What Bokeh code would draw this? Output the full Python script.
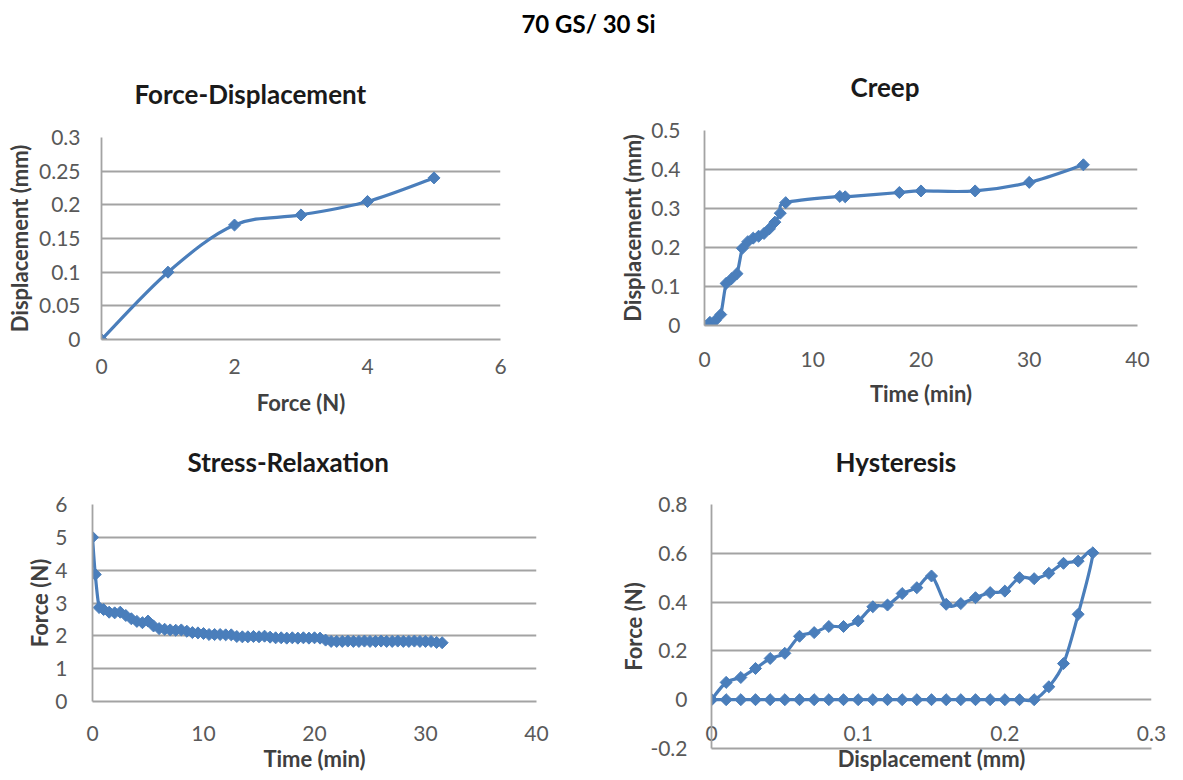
import numpy as np
from bokeh.plotting import figure
from bokeh.models import Range1d, FixedTicker, Div
from bokeh.layouts import column, row
from bokeh.embed import file_html
from bokeh.resources import INLINE

# ---------------- data ----------------
main_title = "70 GS/ 30 Si"

fd_force = [0, 1, 2, 3, 4, 5]
fd_disp = [0, 0.1, 0.17, 0.185, 0.205, 0.24]
fd_xticks = [0, 2, 4, 6]
fd_xlabels = ["0", "2", "4", "6"]
fd_yticks = [0, 0.05, 0.1, 0.15, 0.2, 0.25, 0.3]
fd_ylabels = ["0", "0.05", "0.1", "0.15", "0.2", "0.25", "0.3"]

creep_time = [0, 0.5, 1, 1.5, 2, 2.5, 3, 3.5, 4, 4.5, 5, 5.5, 6, 6.5, 7, 7.5,
              12.5, 13, 18, 20, 25, 30, 35]
creep_disp = [0, 0.008, 0.013, 0.028, 0.108, 0.12, 0.133, 0.198, 0.215, 0.224,
              0.229, 0.236, 0.248, 0.265, 0.288, 0.315, 0.331, 0.330, 0.341,
              0.345, 0.345, 0.367, 0.412]
creep_xticks = [0, 10, 20, 30, 40]
creep_xlabels = ["0", "10", "20", "30", "40"]
creep_yticks = [0, 0.1, 0.2, 0.3, 0.4, 0.5]
creep_ylabels = ["0", "0.1", "0.2", "0.3", "0.4", "0.5"]

sr_time = [0, 0.25, 0.6, 1.0, 1.5, 2.0, 2.5, 3.0, 3.5, 4.0, 4.5, 5.0, 5.5, 6.0,
           6.5, 7.0, 7.5, 8.0, 8.5, 9.0, 9.5, 10.0, 10.5, 11.0, 11.5, 12.0, 12.5,
           13.0, 13.5, 14.0, 14.5, 15.0, 15.5, 16.0, 16.5, 17.0, 17.5, 18.0,
           18.5, 19.0, 19.5, 20.0, 20.5, 21.0, 21.5, 22.0, 22.5, 23.0, 23.5,
           24.0, 24.5, 25.0, 25.5, 26.0, 26.5, 27.0, 27.5, 28.0, 28.5, 29.0,
           29.5, 30.0, 30.5, 31.0, 31.5]
sr_force = [5.0, 3.87, 2.86, 2.80, 2.72, 2.70, 2.72, 2.62, 2.52, 2.44, 2.40,
            2.45, 2.30, 2.22, 2.20, 2.18, 2.17, 2.18, 2.14, 2.10, 2.09, 2.07,
            2.04, 2.04, 2.04, 2.03, 2.03, 1.98, 1.97, 1.97, 1.98, 1.97, 1.99,
            1.96, 1.94, 1.94, 1.93, 1.94, 1.93, 1.94, 1.93, 1.94, 1.93, 1.87,
            1.83, 1.83, 1.83, 1.84, 1.83, 1.83, 1.84, 1.83, 1.83, 1.84, 1.83,
            1.83, 1.84, 1.83, 1.83, 1.84, 1.83, 1.83, 1.83, 1.80, 1.79]
sr_xticks = [0, 10, 20, 30, 40]
sr_xlabels = ["0", "10", "20", "30", "40"]
sr_yticks = [0, 1, 2, 3, 4, 5, 6]
sr_ylabels = ["0", "1", "2", "3", "4", "5", "6"]

hy_disp = [0, 0.01, 0.02, 0.03, 0.04, 0.05, 0.06, 0.07, 0.08, 0.09, 0.10,
           0.11, 0.12, 0.13, 0.14, 0.15, 0.16, 0.17, 0.18, 0.19, 0.20, 0.21,
           0.22, 0.23, 0.24, 0.25, 0.26,
           0.25, 0.24, 0.23, 0.22, 0.21, 0.20, 0.19, 0.18, 0.17, 0.16, 0.15,
           0.14, 0.13, 0.12, 0.11, 0.10, 0.09, 0.08, 0.07, 0.06, 0.05, 0.04,
           0.03, 0.02, 0.01, 0]
hy_force = [0, 0.071, 0.091, 0.128, 0.169, 0.19, 0.26, 0.275, 0.30, 0.30,
            0.323, 0.381, 0.388, 0.435, 0.459, 0.507, 0.391, 0.394, 0.418,
            0.439, 0.445, 0.50, 0.496, 0.518, 0.559, 0.568, 0.602,
            0.35, 0.148, 0.053, 0, 0, 0, 0, 0, 0, 0, 0, 0, 0, 0, 0, 0, 0, 0,
            0, 0, 0, 0, 0, 0, 0, 0]
hy_xticks = [0, 0.1, 0.2, 0.3]
hy_xlabels = ["0", "0.1", "0.2", "0.3"]
hy_yticks = [-0.2, 0, 0.2, 0.4, 0.6, 0.8]
hy_ylabels = ["-0.2", "0", "0.2", "0.4", "0.6", "0.8"]

# ---------------- style ----------------
FONT = "Lato"
BLUE = "#4a7ebb"
GRID = "#a3a3a3"
TICK_FS = "21px"
AXT_FS = "22px"
TITLE_FS = "26px"


def smooth_segments(xs, ys):
    xs = np.asarray(xs, float)
    ys = np.asarray(ys, float)
    n = len(xs)
    i = np.arange(n - 1)
    prev = np.maximum(i - 1, 0)
    nxt = np.minimum(i + 2, n - 1)
    return dict(
        x0=xs[i], y0=ys[i], x1=xs[i + 1], y1=ys[i + 1],
        cx0=xs[i] + (xs[i + 1] - xs[prev]) / 6.0,
        cy0=ys[i] + (ys[i + 1] - ys[prev]) / 6.0,
        cx1=xs[i + 1] - (xs[nxt] - xs[i]) / 6.0,
        cy1=ys[i + 1] - (ys[nxt] - ys[i]) / 6.0,
    )


def make_fig(width, height, borders, xr, yr, xt, xl, yt, yl,
             xtitle, ytitle, title, title_offset, title_standoff,
             xs_off, xa_off, ys_off, ya_off, xs, ys):
    left, right, top, bottom = borders
    p = figure(width=width, height=height, output_backend="svg",
               toolbar_location=None, x_range=Range1d(*xr),
               y_range=Range1d(*yr), min_border_left=left,
               min_border_right=right, min_border_top=top,
               min_border_bottom=bottom, background_fill_color="white",
               border_fill_color="white", outline_line_color=None)
    p.title.text = title
    p.title.align = "left"
    p.title.offset = title_offset
    p.title.vertical_align = "top"
    p.title.standoff = title_standoff
    p.title.text_font = FONT
    p.title.text_font_size = TITLE_FS
    p.title.text_font_style = "bold"
    p.title.text_color = "#1a1a1a"

    p.xgrid.visible = False
    p.ygrid.grid_line_color = GRID
    p.ygrid.grid_line_width = 1.8

    for ax, ticks, labels in ((p.xaxis[0], xt, xl), (p.yaxis[0], yt, yl)):
        ax.ticker = FixedTicker(ticks=ticks)
        ax.major_label_overrides = {t: s for t, s in zip(ticks, labels)}
        ax.major_tick_line_color = None
        ax.minor_tick_line_color = None
        ax.axis_line_color = GRID
        ax.axis_line_width = 1.8
        ax.major_label_text_font = FONT
        ax.major_label_text_font_size = TICK_FS
        ax.major_label_text_color = "#595959"
        ax.axis_label_text_font = FONT
        ax.axis_label_text_font_size = AXT_FS
        ax.axis_label_text_font_style = "bold"
        ax.axis_label_text_color = "#404040"

    p.xaxis.axis_label = xtitle
    p.yaxis.axis_label = ytitle
    p.xaxis.major_label_standoff = xs_off
    p.xaxis.axis_label_standoff = xa_off
    p.yaxis.major_label_standoff = ys_off
    p.yaxis.axis_label_standoff = ya_off

    seg = smooth_segments(xs, ys)
    p.bezier(x0="x0", y0="y0", x1="x1", y1="y1", cx0="cx0", cy0="cy0",
             cx1="cx1", cy1="cy1", source=seg, line_color=BLUE,
             line_width=3.2)
    p.scatter(xs, ys, marker="square", angle=np.pi / 4, size=8.5,
              fill_color=BLUE, line_color=BLUE, line_width=1)
    return p


p1 = make_fig(585, 376, (101, 85, 93, 81), (0, 6), (0, 0.3),
              fd_xticks, fd_xlabels, fd_yticks, fd_ylabels,
              "Force (N)", "Displacement (mm)", "Force-Displacement",
              33, 51, 13, 12, 15, 3, fd_force, fd_disp)
p2 = make_fig(582, 376, (119, 30, 85, 95), (0, 40), (0, 0.5),
              creep_xticks, creep_xlabels, creep_yticks, creep_ylabels,
              "Time (min)", "Displacement (mm)", "Creep",
              146, 52, 20, 10, 18, 2, creep_time, creep_disp)
p3 = make_fig(585, 354, (92, 49, 83, 72), (0, 40), (0, 6),
              sr_xticks, sr_xlabels, sr_yticks, sr_ylabels,
              "Time (min)", "Force (N)", "Stress-Relaxation",
              95, 50, 18, 1, 19, -1, sr_time, sr_force)
# Hysteresis: the value labels of the horizontal axis sit just under the
# zero line (between 0 and -0.2), as in the original chart
p4 = make_fig(582, 354, (126, 16, 83, 24), (0, 0.3), (-0.2, 0.8),
              hy_xticks, hy_xlabels, hy_yticks, hy_ylabels,
              "Displacement (mm)", "Force (N)", "Hysteresis",
              124, 50, -29, 1, 18, 0, hy_disp, hy_force)

head = Div(text=('<div style="width:1167px;text-align:center;font-family:Lato;'
                 'font-weight:bold;font-size:24px;line-height:30px;'
                 'padding-top:4px;color:#000">' + main_title + '</div>'),
           width=1167, height=34)

layout = column(head,
                row(column(p1), column(p2)),
                row(column(p3), column(p4)))
open("out.html", "w").write(file_html(layout, INLINE))
